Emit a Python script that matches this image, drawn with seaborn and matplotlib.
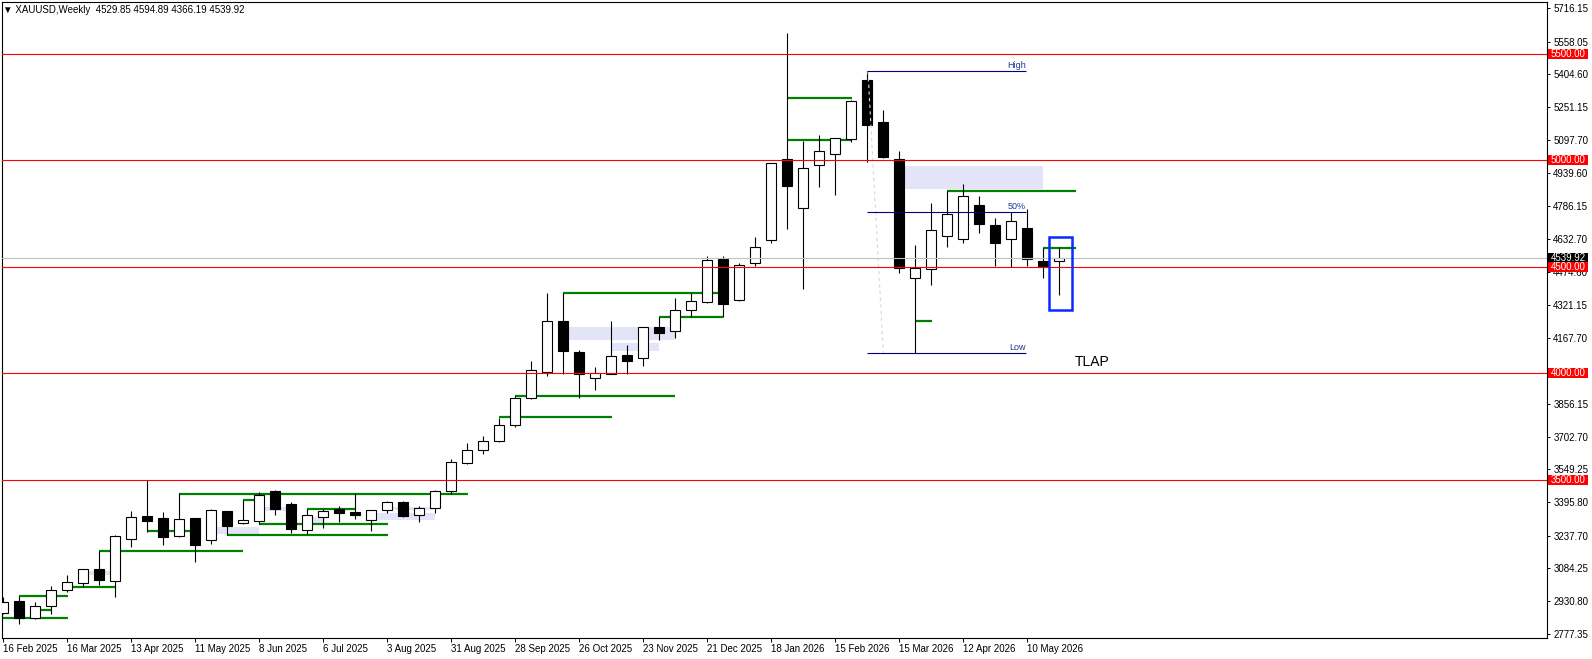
import numpy as np
import pandas as pd
import matplotlib
matplotlib.use('Agg')
import matplotlib.pyplot as plt
import matplotlib.transforms as mtransforms
from matplotlib.patches import Rectangle
import seaborn as sns

sns.set_theme(style='white')
plt.rcParams['font.family'] = ['Liberation Sans', 'DejaVu Sans']

# weekly OHLC, XAUUSD, 16 Feb 2025 .. 24 May 2026
opens = [2876, 2931, 2850, 2906, 2982, 3014, 3082, 3027, 3224, 3330,
         3320, 3235, 3320, 3216, 3354, 3296, 3308, 3448, 3385, 3266,
         3327, 3362, 3348, 3313, 3360, 3395, 3334, 3367, 3448, 3578,
         3639, 3681, 3756, 3883, 4005, 4245, 4100, 3977, 3996, 4085,
         4071, 4218, 4198, 4296, 4335, 4537, 4346, 4517, 4625, 5005,
         4775, 4980, 5029, 5102, 5377, 5179, 5005, 4446, 4489, 4644,
         4630, 4791, 4697, 4630, 4681, 4528, 4529.85]
highs = [2952, 2955, 2925, 3002, 3053, 3083, 3168, 3240, 3354, 3500,
         3349, 3437, 3321, 3362, 3355, 3404, 3442, 3453, 3396, 3362,
         3365, 3377, 3437, 3358, 3402, 3399, 3379, 3453, 3598, 3673,
         3706, 3790, 3894, 4058, 4377, 4377, 4108, 4030, 4246, 4133,
         4218, 4265, 4354, 4376, 4551, 4551, 4517, 4640, 4988, 5597,
         5091, 5119, 5105, 5284, 5418, 5235, 5044, 4603, 4801, 4858,
         4889, 4833, 4728, 4759, 4770, 4590, 4594.89]
lows = [2870, 2825, 2849, 2872, 2975, 2996, 3006, 2952, 3186, 3257,
        3196, 3234, 3116, 3200, 3241, 3291, 3293, 3335, 3252, 3246,
        3273, 3301, 3318, 3261, 3343, 3324, 3304, 3346, 3432, 3573,
        3623, 3680, 3750, 3882, 3989, 3996, 3883, 3923, 3995, 3996,
        4036, 4157, 4168, 4266, 4332, 4266, 4341, 4505, 4613, 4679,
        4398, 4875, 4838, 5088, 4994, 5010, 4473, 4094, 4416, 4595,
        4614, 4658, 4504, 4501, 4504, 4449, 4366.19]
closes = [2928, 2853, 2906, 2982, 3019, 3082, 3031, 3235, 3324, 3308,
          3233, 3318, 3196, 3357, 3285, 3310, 3429, 3363, 3271, 3334,
          3354, 3346, 3334, 3357, 3395, 3332, 3367, 3448, 3583, 3639,
          3681, 3756, 3883, 4014, 4245, 4107, 3997, 4000, 4080, 4060,
          4216, 4191, 4296, 4338, 4531, 4327, 4507, 4592, 4986, 4881,
          4963, 5043, 5104, 5277, 5168, 5017, 4493, 4493, 4672, 4747,
          4831, 4703, 4614, 4715, 4536, 4501, 4539.92]

date_labels = ['16 Feb 2025', '16 Mar 2025', '13 Apr 2025', '11 May 2025',
               '8 Jun 2025', '6 Jul 2025', '3 Aug 2025', '31 Aug 2025',
               '28 Sep 2025', '26 Oct 2025', '23 Nov 2025', '21 Dec 2025',
               '18 Jan 2026', '15 Feb 2026', '15 Mar 2026', '12 Apr 2026',
               '10 May 2026']
price_ticks = [5716.15, 5558.05, 5404.60, 5251.15, 5097.70, 4939.60, 4786.15,
               4632.70, 4474.60, 4321.15, 4167.70, 3856.15, 3702.70, 3549.25,
               3395.80, 3237.70, 3084.25, 2930.80, 2777.35]

red_levels = [5500, 5000, 4500, 4000, 3500]
last_price = 4539.92

# green swing levels: start bar, end bar, price
green_start = [-0.3, 1, 2.35, 4.3, 6, 9, 14, 16, 15, 19, 11,
               35, 41, 32, 31, 49, 49, 59, 57, 65]
green_end = [4.05, 4.05, 3.0, 7.0, 15.02, 11.7, 24.04, 24.04, 16.33, 22.02, 29.04,
             44.7, 45.02, 42, 38.04, 53.04, 53.04, 67.06, 58.04, 67.06]
green_price = [2851, 2955, 2889, 2997, 3168, 3258, 3241, 3293, 3404, 3364, 3435,
               4378, 4265, 3895, 3793, 5096, 5294, 4858, 4247, 4590]

# imbalance boxes: start bar, end bar, low, high
box_start = [5.3, 13.35, 16.3, 19.4, 23.35, 24.4, 35.4, 38.04, 56.4]
box_end = [6.7, 16.0, 17.7, 20.1, 27.0, 26.9, 42.0, 41.0, 65.0]
box_low = [3053, 3246, 3354, 3296, 3312, 3359, 4157, 4106, 4867]
box_high = [3072, 3280, 3374, 3327, 3346, 3374, 4216, 4144, 4974]

# high / low swing and the 50% level
swing_high = 5418
swing_low = 4094
fib_start, fib_end = 54, 63.94

df = pd.DataFrame({'open': opens, 'high': highs, 'low': lows, 'close': closes})
df['bar'] = np.arange(len(df))
df['up'] = df['close'] >= df['open']

W, H = 1592, 659
fig = plt.figure(figsize=(W / 100, H / 100), dpi=100)
fig.patch.set_facecolor('white')
ax = fig.add_axes([2 / W, 21 / H, 1545 / W, 636 / H])
ax.set_facecolor('white')

# boxes and green levels behind the candles
for s, e, lo, hi in zip(box_start, box_end, box_low, box_high):
    ax.add_patch(Rectangle((s, lo), e - s, hi - lo, fc='#e4e4f8', ec='none', zorder=1))
ax.hlines(green_price, green_start, green_end, color='#008000', lw=1.6, zorder=2)

# candles
ax.vlines(df['bar'], df['low'], df['high'], color='black', lw=0.8, zorder=3)
body_lo = df[['open', 'close']].min(axis=1)
body_hi = df[['open', 'close']].max(axis=1)
ax.bar(df['bar'], (body_hi - body_lo).clip(lower=3), bottom=body_lo, width=0.58,
       color=np.where(df['up'], 'white', 'black'), edgecolor='black', linewidth=0.8,
       zorder=4)

# dashed high-low connector
ax.plot([54.06, 55.02], [swing_high, swing_low], color='#d4d4f0', lw=0.8,
        ls=(0, (3, 3)), zorder=5)

# red round-number levels and current price
ax.hlines(red_levels, -1, 100, color='red', lw=0.8, zorder=5)
ax.axhline(last_price, color='#c0c0c0', lw=0.8, zorder=5)

# fib lines
mid = (swing_high + swing_low) / 2
ax.hlines([swing_high, mid, swing_low], fib_start, fib_end, color='#000080', lw=0.8, zorder=6)
for y, t in zip([swing_high, mid, swing_low], ['High', '50%', 'Low']):
    ax.text(fib_end, y + 5, t, ha='right', va='bottom', fontsize=6.5, color='#1f3a93', zorder=6)

# blue box on the last candle
ax.add_patch(Rectangle((65.36, 4297.5), 1.45, 341.4, fill=False, ec='#0a28ff', lw=1.8, zorder=7))
ax.text(67.0, 4053, 'TLAP', fontsize=10, ha='left', va='center', color='black')

ax.set_xlim(-0.0625, 96.5)
ax.set_ylim(2757.6, 5743.6)

# axes
for sp in ax.spines.values():
    sp.set_visible(True)
    sp.set_color('black')
    sp.set_linewidth(0.8)
ax.yaxis.tick_right()
ax.set_yticks(price_ticks)
ax.set_yticklabels([f'{v:.2f}' for v in price_ticks])
ax.set_xticks(np.arange(0, 4 * len(date_labels), 4))
ax.set_xticklabels(date_labels, ha='left')
ax.tick_params(axis='y', right=True, left=False, direction='out', length=2.5, width=0.7,
               pad=2, labelsize=7, colors='black')
ax.tick_params(axis='x', bottom=True, direction='out', length=3, width=0.7,
               pad=1, labelsize=7, colors='black')
ax.grid(False)

# price tags on the right scale
blend = mtransforms.blended_transform_factory(fig.transFigure, ax.transData)
x0, x1 = 1547.7 / W, 1588.3 / W
tag_h = 10 * 4.695
ax.add_patch(Rectangle((x0, last_price - tag_h / 2), x1 - x0, tag_h, transform=blend,
                       fc='black', ec='none', clip_on=False, zorder=10))
ax.text((x0 + x1) / 2, last_price, f'{last_price:.2f}', transform=blend, ha='center',
        va='center', fontsize=7, color='white', clip_on=False, zorder=11)
for lv in red_levels:
    ax.add_patch(Rectangle((x0, lv - tag_h / 2), x1 - x0, tag_h, transform=blend,
                           fc='red', ec='none', clip_on=False, zorder=12))
    ax.text((x0 + x1) / 2, lv, f'{lv:.2f}', transform=blend, ha='center', va='center',
            fontsize=7, color='white', clip_on=False, zorder=13)

fig.text(3 / W, 1 - 10 / H, '\u25bc XAUUSD,Weekly  4529.85 4594.89 4366.19 4539.92',
         fontsize=7, va='center', ha='left', color='black')

fig.savefig('out.png', dpi=100, facecolor='white')
